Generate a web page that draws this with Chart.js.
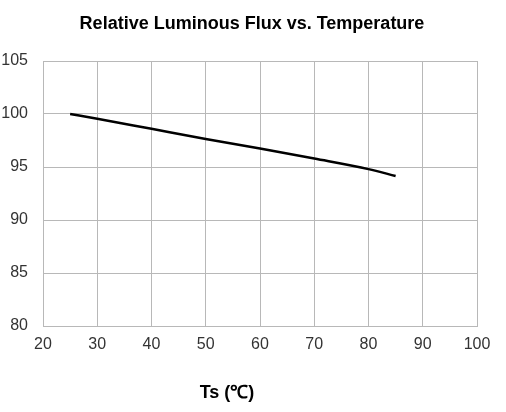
<!DOCTYPE html>
<html>
<head>
<meta charset="utf-8">
<script src="https://cdn.jsdelivr.net/npm/chart.js@4/dist/chart.umd.min.js"></script>
<style>
  html, body { margin: 0; padding: 0; background: #fff; }
  #wrap { width: 506px; height: 412px; }
</style>
</head>
<body>
<div id="wrap"><canvas id="fluxChart" width="506" height="412"></canvas></div>
<script>
/* data */
const temps = [25, 30, 40, 50, 60, 70, 80, 85];
const flux = [100, 99.55, 98.6, 97.65, 96.75, 95.8, 94.8, 94.15];
const titleText = 'Relative Luminous Flux vs. Temperature';
const xTitle = 'Ts (℃)';

const gridColor = '#b8b8b8';
const tickFont = { family: 'Liberation Sans', size: 16 };
const boldFont = 'bold 18px "Liberation Sans", Arial, sans-serif';

// title is centred on the page, the x title left of the plot centre,
// so both are drawn by hand
const textPlugin = {
  id: 'texts',
  afterDraw(chart) {
    const ctx = chart.ctx;
    const area = chart.chartArea;
    ctx.save();
    ctx.font = boldFont;
    ctx.fillStyle = '#000';
    ctx.textAlign = 'center';
    ctx.textBaseline = 'alphabetic';
    ctx.fillText(titleText, chart.width / 2 - 1, 28.5);
    ctx.textBaseline = 'middle';
    ctx.fillText(xTitle, area.left + (area.right - area.left) * 0.424, area.bottom + 67);
    ctx.restore();
  }
};

new Chart(document.getElementById('fluxChart'), {
  type: 'line',
  data: {
    datasets: [{
      data: temps.map((t, i) => ({ x: t, y: flux[i] })),
      borderColor: '#000',
      borderWidth: 2.5,
      pointRadius: 0,
      cubicInterpolationMode: 'monotone',
      fill: false
    }]
  },
  options: {
    responsive: false,
    animation: false,
    layout: { padding: { left: 0, right: 29, top: 61, bottom: 0 } },
    plugins: {
      legend: { display: false },
      tooltip: { enabled: false },
      title: { display: false }
    },
    scales: {
      x: {
        type: 'linear',
        min: 20,
        max: 100,
        ticks: { stepSize: 10, color: '#333', font: tickFont, padding: 9, maxRotation: 0 },
        grid: { color: gridColor, drawTicks: false, lineWidth: 1 },
        border: { color: gridColor },
        afterFit(scale) { scale.height = 86; }
      },
      y: {
        min: 80,
        max: 105,
        ticks: { stepSize: 5, color: '#333', font: tickFont, padding: 15 },
        grid: { color: gridColor, drawTicks: false, lineWidth: 1 },
        border: { color: gridColor },
        afterFit(scale) { scale.width = 43; }
      }
    }
  },
  plugins: [textPlugin]
});
</script>
</body>
</html>
